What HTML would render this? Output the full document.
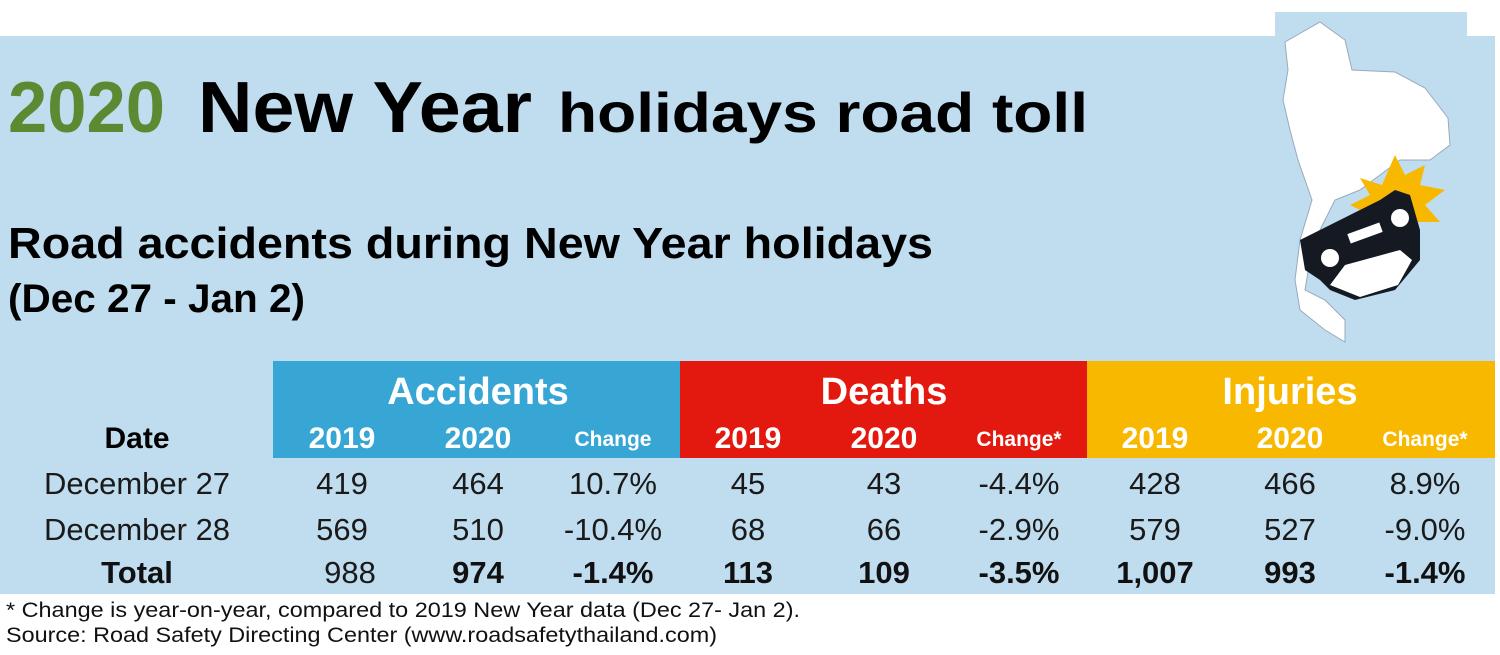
<!DOCTYPE html>
<html><head><meta charset="utf-8"><style>
html,body{margin:0;padding:0;background:#fff;}
svg{display:block;}
text{font-family:"Liberation Sans",Arial,sans-serif;}
</style></head><body>
<svg width="1500" height="655" viewBox="0 0 1500 655" xmlns="http://www.w3.org/2000/svg">
<rect x="0" y="0" width="1500" height="655" fill="#fff"/>
<rect x="0" y="36" width="1495" height="558" fill="#c0dcef"/>
<rect x="1275" y="12" width="192" height="30" fill="#c0dcef"/>
<text x="8" y="132" font-size="72" font-weight="bold" fill="#5b8a33" textLength="157" lengthAdjust="spacingAndGlyphs">2020</text>
<text x="198" y="132" font-size="72" font-weight="bold" fill="#000" textLength="334" lengthAdjust="spacingAndGlyphs">New Year</text>
<text x="558" y="132" font-size="56" font-weight="bold" fill="#000" textLength="530" lengthAdjust="spacingAndGlyphs">holidays road toll</text>
<text x="8" y="258" font-size="44" font-weight="bold" fill="#000" textLength="925" lengthAdjust="spacingAndGlyphs">Road accidents during New Year holidays</text>
<text x="8" y="312" font-size="40" font-weight="bold" fill="#000" textLength="297" lengthAdjust="spacingAndGlyphs">(Dec 27 - Jan 2)</text>
<g>
<path d="M1285 42 L1320 22 L1345 40 L1352 70 L1395 72 L1425 88 L1448 118 L1450 145 L1430 160 L1400 160 L1380 175 L1360 190 L1335 200 L1320 230 L1310 260 L1305 290 L1325 300 L1345 320 L1345 342 L1325 330 L1300 310 L1295 280 L1300 240 L1312 200 L1298 160 L1290 130 L1283 100 L1288 70 Z" fill="#fff" stroke="#9ab" stroke-width="1"/>
<polygon points="1395,155 1405,175 1425,165 1420,185 1445,190 1425,205 1440,222 1415,222 1420,245 1400,232 1390,250 1380,228 1360,235 1370,215 1350,205 1370,195 1360,178 1382,185" fill="#f8b800"/>
<path d="M1300 240 L1380 200 L1395 190 L1410 195 L1420 230 L1420 260 L1395 290 L1355 300 L1330 290 L1320 280 L1305 270 Z" fill="#151a22"/>
<path d="M1330 285 L1345 265 L1400 250 L1412 260 L1398 285 L1360 297 Z" fill="#fff"/>
<circle cx="1330" cy="258" r="9" fill="#fff"/>
<circle cx="1400" cy="218" r="9" fill="#fff"/>
<rect x="1348" y="228" width="34" height="10" fill="#fff" transform="rotate(-20 1365 233)"/>
</g>
<rect x="273" y="361" width="407" height="97" fill="#37a6d5"/>
<rect x="680" y="361" width="407" height="97" fill="#e3190f"/>
<rect x="1087" y="361" width="408" height="97" fill="#f8b800"/>
<g fill="#fff" font-weight="bold" text-anchor="middle">
<text x="478" y="404" font-size="38">Accidents</text>
<text x="884" y="404" font-size="38">Deaths</text>
<text x="1290" y="404" font-size="38">Injuries</text>
<g font-size="30">
<text x="342" y="448">2019</text><text x="478" y="448">2020</text>
<text x="748" y="448">2019</text><text x="884" y="448">2020</text>
<text x="1155" y="448">2019</text><text x="1290" y="448">2020</text>
</g>
<g font-size="21">
<text x="613" y="446">Change</text>
<text x="1019" y="446">Change*</text>
<text x="1425" y="446">Change*</text>
</g>
</g>
<text x="137" y="448" font-size="30" font-weight="bold" text-anchor="middle" fill="#000">Date</text>
<g font-size="31" fill="#1a1a1a" text-anchor="middle">
<text x="137" y="494">December 27</text>
<text x="342" y="494">419</text><text x="478" y="494">464</text><text x="613" y="494">10.7%</text>
<text x="748" y="494">45</text><text x="884" y="494">43</text><text x="1019" y="494">-4.4%</text>
<text x="1155" y="494">428</text><text x="1290" y="494">466</text><text x="1425" y="494">8.9%</text>
<text x="137" y="540">December 28</text>
<text x="342" y="540">569</text><text x="478" y="540">510</text><text x="613" y="540">-10.4%</text>
<text x="748" y="540">68</text><text x="884" y="540">66</text><text x="1019" y="540">-2.9%</text>
<text x="1155" y="540">579</text><text x="1290" y="540">527</text><text x="1425" y="540">-9.0%</text>
<text x="350" y="583">988</text>
</g>
<g font-size="31" font-weight="bold" fill="#111" text-anchor="middle">
<text x="137" y="583">Total</text>
<text x="478" y="583">974</text><text x="613" y="583">-1.4%</text>
<text x="748" y="583">113</text><text x="884" y="583">109</text><text x="1019" y="583">-3.5%</text>
<text x="1155" y="583">1,007</text><text x="1290" y="583">993</text><text x="1425" y="583">-1.4%</text>
</g>
<text x="6" y="617" font-size="21" fill="#111" textLength="794" lengthAdjust="spacingAndGlyphs">* Change is year-on-year, compared to 2019 New Year data (Dec 27- Jan 2).</text>
<text x="6" y="642" font-size="21" fill="#111" textLength="711" lengthAdjust="spacingAndGlyphs">Source: Road Safety Directing Center (www.roadsafetythailand.com)</text>
</svg>
</body></html>
